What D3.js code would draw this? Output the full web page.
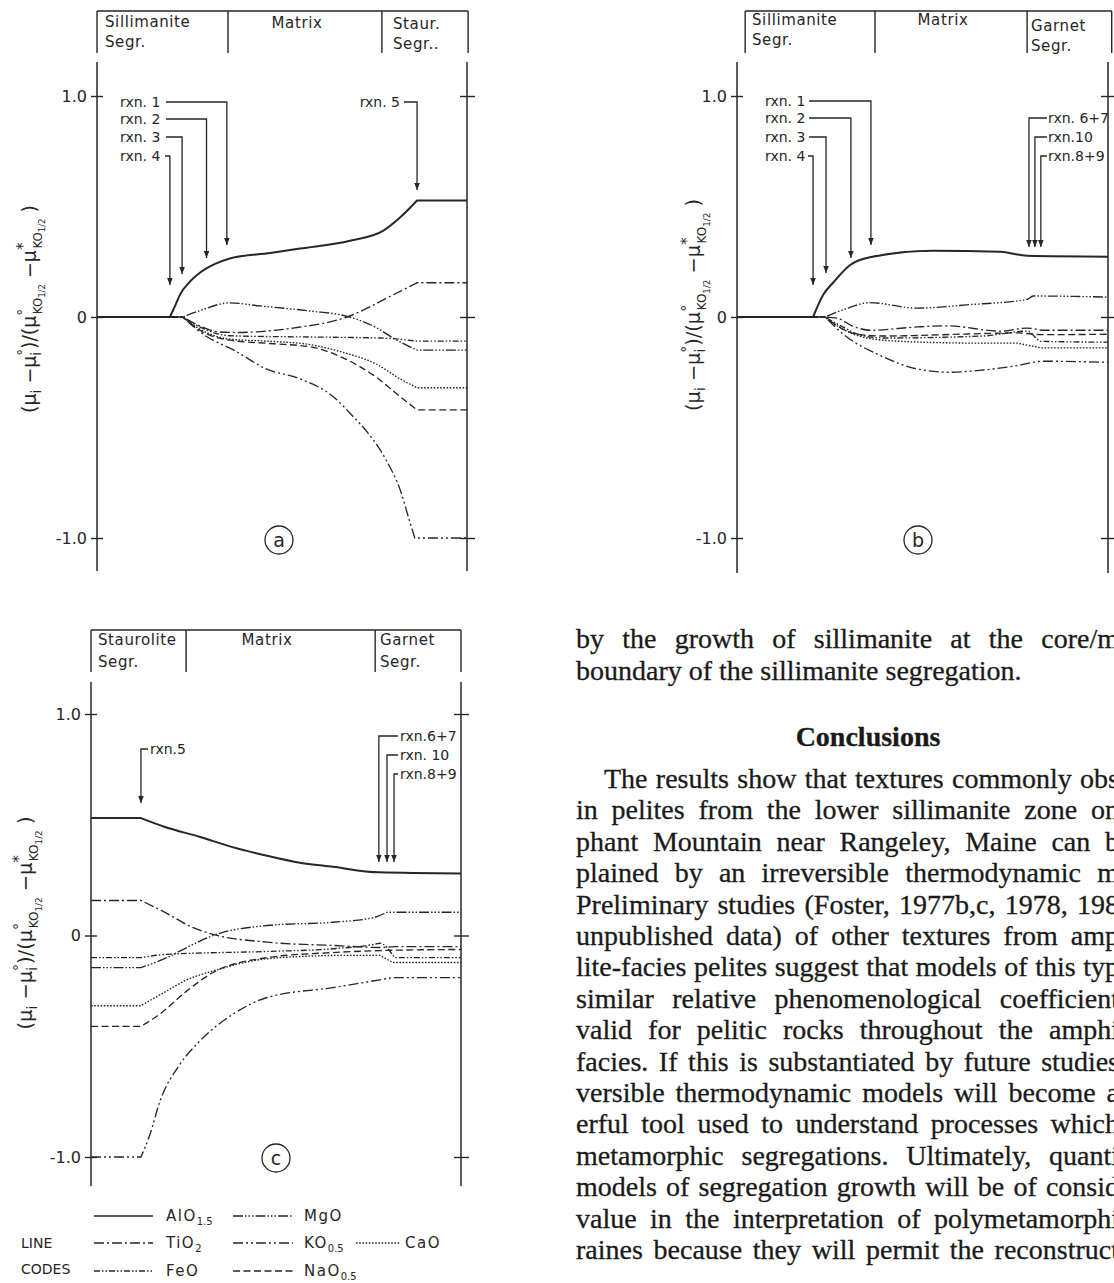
<!DOCTYPE html>
<html>
<head>
<meta charset="utf-8">
<script src="https://cdn.jsdelivr.net/npm/d3@7"></script>
<style>
  body { margin: 0; background: #fff; }
  svg { display: block; }
</style>
</head>
<body>
<div id="fig"></div>
<script>
// ---------- data ----------
// x = relative distance across the traverse (0..100), y = normalised potential
const yTicks = [1.0, 0, -1.0];
const yTickLabels = ["1.0", "0", "-1.0"];
const oxides = ["AlO", "TiO", "FeO", "MgO", "KO", "CaO", "NaO"];
const oxideSubs = ["1.5", "2", "", "", "0.5", "", "0.5"];

// (a) sillimanite segr. -> matrix -> staurolite segr.
const aHeader = [["Sillimanite", "Segr."], ["Matrix"], ["Staur.", "Segr.."]];
const aBounds = [0, 35.4, 77, 100.3];
const aAl = [[0,0],[19.7,0],[21.1,0.05],[22.4,0.1],[25.1,0.16],[27.8,0.2],[31.9,0.24],[35.9,0.265],[46.8,0.29],[54.9,0.31],[68.4,0.345],[77.3,0.39],[81.9,0.45],[86.5,0.527],[100,0.527]];
const aTi = [[0,0],[23.2,0],[27.8,-0.04],[33.2,-0.068],[37.8,-0.07],[53,-0.05],[67.6,0],[80,0.1],[86.5,0.155],[100,0.155]];
const aFe = [[0,0],[23.2,0],[27.8,-0.045],[35.9,-0.085],[54.9,-0.09],[76.5,-0.095],[86.5,-0.109],[100,-0.109]];
const aMg = [[0,0],[23.2,0],[28,0.03],[35.9,0.064],[44,0.05],[57.6,0.027],[67.6,0.003],[75.7,-0.05],[80,-0.095],[86.5,-0.15],[100,-0.15]];
const aK  = [[0,0],[23.2,0],[28.6,-0.077],[37,-0.15],[45.9,-0.236],[54.9,-0.28],[63.8,-0.36],[69.2,-0.45],[73,-0.52],[78.4,-0.655],[81.9,-0.78],[84.6,-0.93],[85.9,-1.0],[100,-1.0]];
const aCa = [[0,0],[23.2,0],[27.8,-0.055],[35.9,-0.1],[46.8,-0.11],[57.6,-0.125],[66.5,-0.16],[75.7,-0.215],[81.9,-0.28],[86.5,-0.32],[100,-0.32]];
const aNa = [[0,0],[23.2,0],[27.8,-0.06],[35.9,-0.105],[46.8,-0.12],[57.6,-0.135],[66.5,-0.185],[75.7,-0.275],[81.9,-0.36],[86.5,-0.42],[100,-0.42]];
const aRxn = ["rxn. 1", "rxn. 2", "rxn. 3", "rxn. 4", "rxn. 5"];
const aRxnX = [35.1, 29.6, 23, 19.7, 86.5];
const aRxnTip = [0.326, 0.267, 0.195, 0.145, 0.575];

// (b) sillimanite segr. -> matrix -> garnet segr.
const bHeader = [["Sillimanite", "Segr."], ["Matrix"], ["Garnet", "Segr."]];
const bBounds = [2.2, 37.2, 78.2, 101];
const bAl = [[0,0],[20.5,0],[23.2,0.1],[25.9,0.155],[30.5,0.235],[35.8,0.27],[52.8,0.3],[70.9,0.295],[78.2,0.277],[100,0.273]];
const bTi = [[0,0],[23.7,0],[27,-0.005],[31,-0.04],[36,-0.06],[48.5,-0.045],[56.6,-0.04],[71,-0.064],[78.2,-0.05],[82,-0.06],[100,-0.06]];
const bFe = [[0,0],[23.7,0],[28,-0.04],[33,-0.08],[39.4,-0.095],[66.3,-0.086],[78.2,-0.064],[82,-0.11],[100,-0.114]];
const bMg = [[0,0],[23.7,0],[29,0.035],[35.8,0.065],[48.5,0.04],[62,0.055],[78.2,0.08],[79.8,0.095],[100,0.09]];
const bK  = [[0,0],[23.7,0],[28.6,-0.077],[39.4,-0.18],[48.5,-0.235],[57.4,-0.25],[66.3,-0.24],[75.5,-0.22],[82.5,-0.2],[100,-0.205]];
const bCa = [[0,0],[23.7,0],[28,-0.05],[35,-0.095],[44,-0.11],[62,-0.118],[75.5,-0.118],[82,-0.14],[100,-0.14]];
const bNa = [[0,0],[23.7,0],[28,-0.05],[33,-0.08],[39.4,-0.086],[62,-0.077],[75.5,-0.072],[82,-0.08],[100,-0.078]];
const bRxn = ["rxn. 1", "rxn. 2", "rxn. 3", "rxn. 4", "rxn. 6+7", "rxn.10", "rxn.8+9"];
const bRxnX = [36.1, 30.7, 24, 20.5, 78.7, 80.3, 81.9];
const bRxnTip = [0.326, 0.267, 0.199, 0.145, 0.317, 0.317, 0.317];

// (c) staurolite segr. -> matrix -> garnet segr.
const cHeader = [["Staurolite", "Segr."], ["Matrix"], ["Garnet", "Segr."]];
const cBounds = [0, 25.7, 76.8, 100];
const cAl = [[0,0.53],[13.5,0.53],[20,0.49],[29.5,0.445],[38,0.4],[47.6,0.36],[56,0.33],[65.4,0.31],[77.8,0.285],[100,0.28]];
const cTi = [[0,0.158],[13.5,0.158],[20.5,0.1],[27,0.04],[33,0.005],[47.6,-0.03],[65.4,-0.045],[78.1,-0.054],[82,-0.05],[100,-0.05]];
const cFe = [[0,-0.1],[13.5,-0.1],[20.5,-0.085],[47.6,-0.072],[65.4,-0.06],[76.5,-0.04],[78.1,-0.035],[82,-0.1],[100,-0.1]];
const cMg = [[0,-0.145],[13.5,-0.145],[20.5,-0.1],[27,-0.045],[33,0],[47.6,0.045],[65.4,0.06],[76.2,0.08],[80,0.105],[100,0.105]];
const cK  = [[0,-1],[13.5,-1],[15.9,-0.9],[18.6,-0.75],[24.1,-0.58],[29.5,-0.475],[38.4,-0.355],[47.6,-0.28],[65.4,-0.235],[81.6,-0.19],[100,-0.19]];
const cCa = [[0,-0.317],[13.5,-0.317],[20.5,-0.25],[25.9,-0.2],[33,-0.16],[47.6,-0.105],[65.4,-0.09],[78.1,-0.09],[81.6,-0.122],[100,-0.122]];
const cNa = [[0,-0.41],[13.5,-0.41],[18.6,-0.355],[25.9,-0.25],[33,-0.167],[47.6,-0.1],[65.4,-0.077],[78.1,-0.068],[100,-0.063]];
const cRxn = ["rxn.5", "rxn.6+7", "rxn. 10", "rxn.8+9"];
const cRxnX = [13.5, 77.8, 80, 81.9];
const cRxnTip = [0.598, 0.332, 0.332, 0.332];

// text column beside the figure
const bodyLines = [
  "by the growth of sillimanite at the core/m",
  "boundary of the sillimanite segregation.",
  "The results show that textures commonly obs",
  "in pelites from the lower sillimanite zone on",
  "phant Mountain near Rangeley, Maine can b",
  "plained by an irreversible thermodynamic m",
  "Preliminary studies (Foster, 1977b,c, 1978, 198",
  "unpublished data) of other textures from amp",
  "lite-facies pelites suggest that models of this typ",
  "similar relative phenomenological coefficient",
  "valid for pelitic rocks throughout the amphi",
  "facies. If this is substantiated by future studies",
  "versible thermodynamic models will become a",
  "erful tool used to understand processes which",
  "metamorphic segregations. Ultimately, quanti",
  "models of segregation growth will be of consid",
  "value in the interpretation of polymetamorphi",
  "raines because they will permit the reconstruct"
];
const heading = "Conclusions";

// ---------- styles / layout ----------
const ink = "#262626";
const sans = "'DejaVu Sans', sans-serif";
const dashes = ["none", "10,3,2,3", "6,2,1.5,2,1.5,2", "10,2,1.5,2,1.5,2,1.5,2", "10,3,2,3,2,3", "1.6,1.6", "7,3.5"];
const W = 1114, H = 1283;

const svg = d3.select("#fig").append("svg")
  .attr("width", W).attr("height", H)
  .style("background", "#fff");

svg.append("defs").append("marker")
  .attr("id", "ah").attr("viewBox", "0 -3 7 6")
  .attr("refX", 7).attr("refY", 0)
  .attr("markerWidth", 7).attr("markerHeight", 6)
  .attr("markerUnits", "userSpaceOnUse").attr("orient", "auto")
  .append("path").attr("d", "M0,-2.8L7,0L0,2.8Z").attr("fill", ink);

const panels = [
  { series: [aAl, aTi, aFe, aMg, aK, aCa, aNa], header: aHeader, bounds: aBounds,
    rxn: aRxn, rxnX: aRxnX, rxnTip: aRxnTip,
    x0: 97, x1: 467, yTop: 96, yBot: 538, axTop: 62, axBot: 571, headTop: 11, headBot: 53,
    headX: [105, 297, 393], headY: [[27, 47], [28], [29, 49]],
    rows: [102, 119, 137, 156, 102], labX: [120, 120, 120, 120, 400], labAnchor: ["start","start","start","start","end"],
    leadFrom: [166, 166, 166, 165, 404],
    letter: "a", circ: [279, 540], yl: [36, 309, 208] },
  { series: [bAl, bTi, bFe, bMg, bK, bCa, bNa], header: bHeader, bounds: bBounds,
    rxn: bRxn, rxnX: bRxnX, rxnTip: bRxnTip,
    x0: 737, x1: 1108, yTop: 96, yBot: 538, axTop: 62, axBot: 573, headTop: 11, headBot: 53,
    headX: [752, 943, 1031], headY: [[25, 45], [25], [31, 51]],
    rows: [101, 118, 137, 156, 118, 137, 156], labX: [765, 765, 765, 765, 1048, 1048, 1048],
    labAnchor: ["start","start","start","start","start","start","start"],
    leadFrom: [809, 809, 809, 808, 1047, 1047, 1047],
    letter: "b", circ: [918, 540], yl: [700, 305, 212] },
  { series: [cAl, cTi, cFe, cMg, cK, cCa, cNa], header: cHeader, bounds: cBounds,
    rxn: cRxn, rxnX: cRxnX, rxnTip: cRxnTip,
    x0: 91, x1: 461, yTop: 714, yBot: 1157, axTop: 682, axBot: 1186, headTop: 630, headBot: 672,
    headX: [98, 267, 380], headY: [[645, 667], [645], [645, 667]],
    rows: [749, 736, 755, 774], labX: [150, 400, 400, 400], labAnchor: ["start","start","start","start"],
    leadFrom: [148, 398, 398, 398],
    letter: "c", circ: [276, 1158], yl: [32, 923, 213] }
];

function yLabel(cx, cy, len) {
  // (μi − μi°) / (μ°KO½ − μ*KO½), rotated, sized to the measured length
  const parts = [
    ["(μ", 0, 1, 0], ["i", 0.28, 0.72, 0],
    [" −μ", 0, 1, 0], ["i", 0.28, 0.72, 0], ["°", -0.42, 0.72, -0.21],
    [")/(μ", 0, 1, 0], ["°", -0.42, 0.72, 0], ["KO", 0.32, 0.62, -0.28], ["1/2", 0.5, 0.45, 0],
    [" −μ", 0, 1, 0], ["*", -0.42, 0.8, 0], ["KO", 0.32, 0.62, -0.32], ["1/2", 0.5, 0.45, 0],
    [" )", 0, 1, 0]
  ];
  const build = fs => {
    const t = svg.append("text")
      .attr("transform", `translate(${cx},${cy}) rotate(-90)`)
      .attr("text-anchor", "middle").attr("fill", ink)
      .style("font-family", sans).style("font-size", fs + "px");
    let cur = 0;
    parts.forEach(([s, sh, sc, dx]) => {
      t.append("tspan").attr("dy", (sh - cur) * fs).attr("dx", dx * fs)
        .style("font-size", (fs * sc) + "px").text(s);
      cur = sh;
    });
    return t;
  };
  let t = build(20);
  const w = t.node().getBBox().width;
  t.remove();
  build(20 * len / w);
}

// monotone curve, but kept sharp where a curve meets a flat (constant) stretch
function tracePath(s, x, y) {
  const p = d3.path();
  let first = true;
  const ctx = {
    moveTo: (a, b) => { if (first) { p.moveTo(a, b); first = false; } else p.lineTo(a, b); },
    lineTo: (a, b) => p.lineTo(a, b),
    bezierCurveTo: (a, b, c, d, e, f) => p.bezierCurveTo(a, b, c, d, e, f),
    closePath: () => p.closePath()
  };
  const gen = d3.line().x(d => x(d[0])).y(d => y(d[1])).curve(d3.curveMonotoneX).context(ctx);
  const isFlat = (u, v) => u[1] === v[1];
  let run = [s[0], s[1]];
  for (let i = 2; i < s.length; i++) {
    if (isFlat(s[i - 1], s[i]) === isFlat(s[i - 2], s[i - 1])) run.push(s[i]);
    else { gen(run); run = [s[i - 1], s[i]]; }
  }
  gen(run);
  return p.toString();
}

panels.forEach(p => {
  const x = d3.scaleLinear().domain([0, 100]).range([p.x0, p.x1]);
  const y = d3.scaleLinear().domain([-1, 1]).range([p.yBot, p.yTop]);
  const g = svg.append("g").attr("stroke-linecap", "butt");

  // header strip
  g.append("line").attr("x1", x(p.bounds[0])).attr("x2", x(p.bounds[p.bounds.length - 1]))
    .attr("y1", p.headTop).attr("y2", p.headTop).attr("stroke", ink).attr("stroke-width", 1.4);
  p.bounds.forEach(b => g.append("line").attr("x1", x(b)).attr("x2", x(b))
    .attr("y1", p.headTop).attr("y2", p.headBot).attr("stroke", ink).attr("stroke-width", 1.4));
  p.header.forEach((lines, i) => lines.forEach((s, j) => g.append("text")
    .attr("x", p.headX[i]).attr("y", p.headY[i][j])
    .attr("text-anchor", i === 1 ? "middle" : "start")
    .attr("fill", ink).style("font-family", sans).style("font-size", "15px")
    .style("letter-spacing", "0.6px").text(s)));

  // axes: vertical rules with cross ticks
  [p.x0, p.x1].forEach(ax => g.append("line").attr("x1", ax).attr("x2", ax)
    .attr("y1", p.axTop).attr("y2", p.axBot).attr("stroke", ink).attr("stroke-width", 1.5));
  const left = g.append("g").attr("transform", `translate(${p.x0},0)`)
    .call(d3.axisLeft(y).tickValues(yTicks).tickSize(6).tickPadding(4)
      .tickFormat((d, i) => yTickLabels[i]));
  g.append("g").attr("transform", `translate(${p.x0},0)`)
    .call(d3.axisRight(y).tickValues(yTicks).tickSize(6).tickFormat(""));
  g.append("g").attr("transform", `translate(${p.x1},0)`)
    .call(d3.axisRight(y).tickValues(yTicks).tickSize(8).tickFormat(""));
  g.append("g").attr("transform", `translate(${p.x1},0)`)
    .call(d3.axisLeft(y).tickValues(yTicks).tickSize(7).tickFormat(""));
  g.selectAll(".domain").remove();
  g.selectAll(".tick line").attr("stroke", ink).attr("stroke-width", 1.4);
  left.selectAll(".tick text").attr("fill", ink).style("font-family", sans).style("font-size", "16px");

  // composition curves
  p.series.forEach((s, i) => g.append("path").attr("d", tracePath(s, x, y))
    .attr("fill", "none").attr("stroke", ink)
    .attr("stroke-width", i === 0 ? 2 : 1.35)
    .attr("stroke-dasharray", dashes[i]));

  // reaction arrows
  p.rxn.forEach((name, i) => {
    const ax = x(p.rxnX[i]);
    g.append("path")
      .attr("d", `M${p.leadFrom[i]},${p.rows[i]}H${ax}V${y(p.rxnTip[i])}`)
      .attr("fill", "none").attr("stroke", ink).attr("stroke-width", 1.3)
      .attr("marker-end", "url(#ah)");
    g.append("text").attr("x", p.labX[i]).attr("y", p.rows[i]).attr("dy", "0.36em")
      .attr("text-anchor", p.labAnchor[i]).attr("fill", ink)
      .style("font-family", sans).style("font-size", "14px").text(name);
  });

  // panel letter
  g.append("circle").attr("cx", p.circ[0]).attr("cy", p.circ[1]).attr("r", 14)
    .attr("fill", "none").attr("stroke", ink).attr("stroke-width", 1.3);
  g.append("text").attr("x", p.circ[0]).attr("y", p.circ[1]).attr("dy", "0.35em")
    .attr("text-anchor", "middle").attr("fill", ink)
    .style("font-family", sans).style("font-size", "19px").text(p.letter);

  yLabel(p.yl[0], p.yl[1], p.yl[2]);
});

// ---------- legend ----------
const legCol = [0, 0, 0, 1, 1, 2, 1];
const legRow = [0, 1, 2, 0, 1, 1, 2];
const colLine = [[94, 153], [233, 293], [356, 400]];
const colText = [166, 304, 405];
const rowY = [1221, 1248, 1276];
const leg = svg.append("g");
leg.append("text").attr("x", 21).attr("y", 1248).attr("fill", ink)
  .style("font-family", sans).style("font-size", "14px").text("LINE");
leg.append("text").attr("x", 21).attr("y", 1274).attr("fill", ink)
  .style("font-family", sans).style("font-size", "14px").text("CODES");
oxides.forEach((ox, i) => {
  const c = legCol[i], yy = rowY[legRow[i]];
  leg.append("line").attr("x1", colLine[c][0]).attr("x2", colLine[c][1])
    .attr("y1", yy - 5).attr("y2", yy - 5).attr("stroke", ink)
    .attr("stroke-width", i === 0 ? 1.6 : 1.3).attr("stroke-dasharray", dashes[i]);
  const t = leg.append("text").attr("x", colText[c]).attr("y", yy).attr("fill", ink)
    .style("font-family", sans).style("font-size", "15px").style("letter-spacing", "1.5px");
  t.append("tspan").text(ox);
  if (oxideSubs[i]) t.append("tspan").attr("dy", 4).style("font-size", "10px")
    .style("letter-spacing", "0px").text(oxideSubs[i]);
});

// ---------- body text ----------
const serif = "'Liberation Serif', 'Times New Roman', serif";
const bodyFs = 28;
const txt = svg.append("g").attr("fill", "#1a1a1a").attr("stroke", "#1a1a1a").attr("stroke-width", 0.3)
  .style("font-family", serif).style("font-size", bodyFs + "px");
const rightEdge = 1119;
bodyLines.forEach((s, i) => {
  const yy = i < 2 ? 648 + i * 32 : 788 + (i - 2) * 31.4;
  const xx = i === 2 ? 604 : 576;
  const t = txt.append("text").attr("x", xx).attr("y", yy).text(s);
  if (i !== 1) {
    const nat = t.node().getComputedTextLength();
    const gaps = s.split(" ").length - 1;
    if (gaps > 0) t.style("word-spacing", ((rightEdge - xx - nat) / gaps) + "px");
  }
});
txt.append("text").attr("x", 868).attr("y", 746).attr("text-anchor", "middle")
  .style("font-weight", "bold").text(heading);
</script>
</body>
</html>
